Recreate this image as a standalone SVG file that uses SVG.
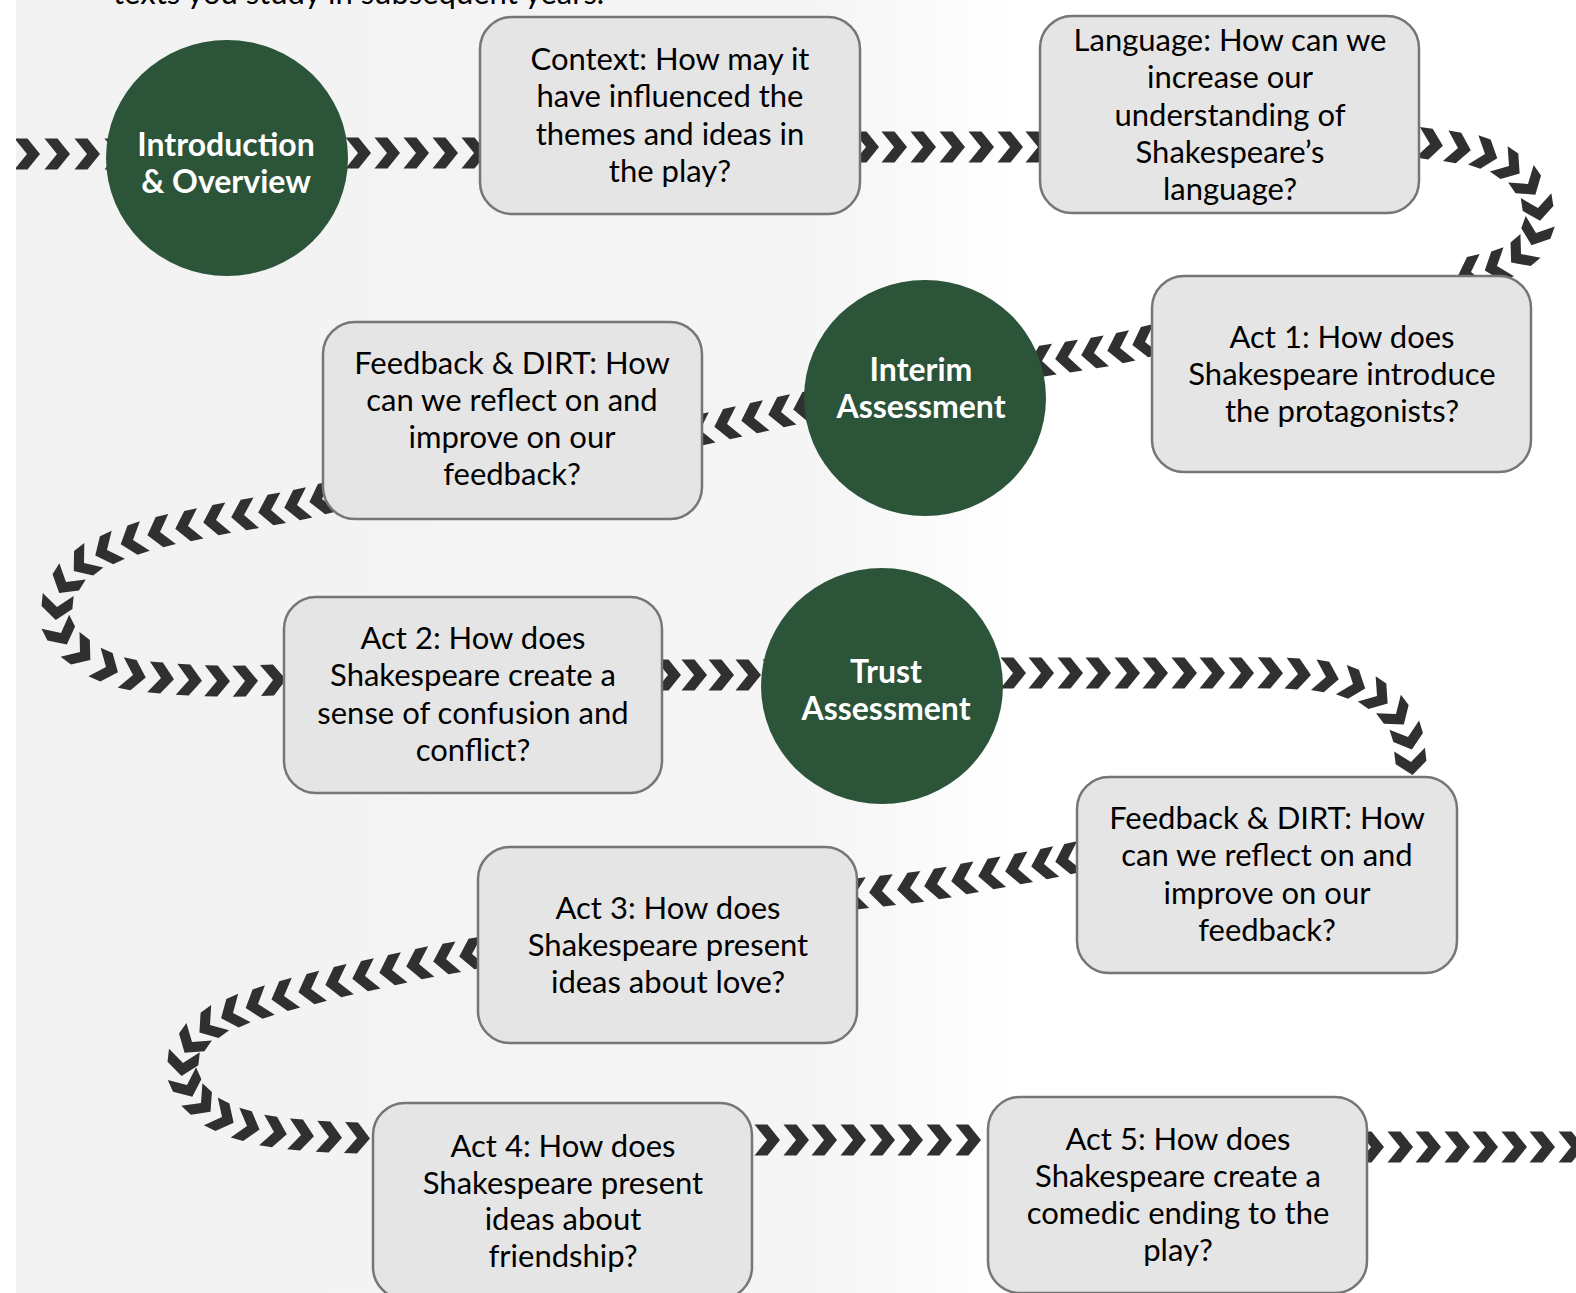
<svg xmlns="http://www.w3.org/2000/svg" width="1576" height="1293" viewBox="0 0 1576 1293">
<style>
.box{fill:#e5e5e5;stroke:#767676;stroke-width:2.5}
.hub{fill:#2b5439}
.bt{font-family:Lato,"Open Sans","Liberation Sans",sans-serif;font-size:31px;fill:#000;text-anchor:middle}
.ht{font-family:Lato,"Open Sans","Liberation Sans",sans-serif;font-size:32px;font-weight:bold;fill:#fff;text-anchor:middle}
.chain{fill:none;stroke:none;marker-start:url(#chev);marker-mid:url(#chev);marker-end:url(#chev)}
</style>
<defs>
<marker id="chev" viewBox="-13 -16 26 32" refX="0" refY="0" markerWidth="26" markerHeight="32" markerUnits="userSpaceOnUse" orient="auto" overflow="visible">
<polygon points="-12.5,-15.5 0.5,-15.5 13,0 0.5,15.5 -12.5,15.5 0,0" fill="#303030"/>
</marker>
<linearGradient id="wm" x1="0" y1="0" x2="1" y2="0">
<stop offset="0" stop-color="#f2f2f2"/>
<stop offset="0.8" stop-color="#f5f5f5"/>
<stop offset="1" stop-color="#ffffff"/>
</linearGradient>
</defs>
<rect x="0" y="0" width="1576" height="1293" fill="#ffffff"/>
<g id="watermark">
<rect x="16" y="0" width="1000" height="1293" fill="url(#wm)"/>
</g>
<text x="113" y="4" font-family="Lato,'Open Sans','Liberation Sans',sans-serif" font-size="31" fill="#000">texts you study in subsequent years.</text>
<g id="connectors">
<polyline class="chain" points="27,154 57,154 87,154 117,154"/>
<polyline class="chain" points="358,153 387,153 416,153 445,153 474,153"/>
<polyline class="chain" points="866,147 894,147 923,147 952,147 981,147 1010,147 1038,147"/>
<polyline class="chain" points="1430,144 1458,148 1485,154 1509,166 1528,184 1538,208 1536,233 1521,254 1497,266 1471,272"/>
<polyline class="chain" points="1145,342 1120,348 1094,353 1068,357 1042,361"/>
<polyline class="chain" points="806,407 781,412 754,418 727,424 700,430"/>
<polyline class="chain" points="322,499 297,505 271,510 244,515 216,520 188,526 160,532 133,540 107,550 84,563 66,582 57,607 61,633 80,652 106,667 133,675 161,678 189,680 217,681 245,681 273,680"/>
<polyline class="chain" points="668,675 694,675 721,675 748,675 775,675"/>
<polyline class="chain" points="1013,673 1041,673 1070,673 1098,673 1127,673 1155,673 1184,673 1212,673 1241,673 1270,673 1298,674 1326,677 1353,684 1377,696 1396,714 1408,737 1411,762"/>
<polyline class="chain" points="1068,859 1044,864 1018,869 991,874 964,879 937,884 910,888 882,891 855,894"/>
<polyline class="chain" points="472,954 446,959 419,964 392,970 365,976 338,982 311,989 284,996 258,1004 233,1013 210,1025 192,1042 183,1063 187,1085 201,1103 222,1117 247,1126 274,1132 301,1135 329,1137 357,1138"/>
<polyline class="chain" points="767,1140 796,1140 824,1140 853,1140 882,1140 910,1140 939,1140 968,1140"/>
<polyline class="chain" points="1371,1147 1400,1147 1428,1147 1457,1147 1485,1147 1514,1147 1542,1147 1571,1147"/>
</g>
<g id="n-intro">
<ellipse class="hub" cx="227" cy="158" rx="121" ry="118"/>
<text class="ht" x="226" y="156">Introduction</text>
<text class="ht" x="226" y="193">&amp; Overview</text>
</g>
<g id="n-context">
<rect class="box" x="480" y="17" width="380" height="197" rx="32"/>
<text class="bt" x="670" y="70">Context: How may it</text>
<text class="bt" x="670" y="107">have influenced the</text>
<text class="bt" x="670" y="145">themes and ideas in</text>
<text class="bt" x="670" y="182">the play?</text>
</g>
<g id="n-language">
<rect class="box" x="1040" y="16" width="379" height="197" rx="32"/>
<text class="bt" x="1230" y="51">Language: How can we</text>
<text class="bt" x="1230" y="88">increase our</text>
<text class="bt" x="1230" y="126">understanding of</text>
<text class="bt" x="1230" y="163">Shakespeare’s</text>
<text class="bt" x="1230" y="200">language?</text>
</g>
<g id="n-act1">
<rect class="box" x="1152" y="276" width="379" height="196" rx="32"/>
<text class="bt" x="1342" y="348">Act 1: How does</text>
<text class="bt" x="1342" y="385">Shakespeare introduce</text>
<text class="bt" x="1342" y="422">the protagonists?</text>
</g>
<g id="n-interim">
<ellipse class="hub" cx="925" cy="398" rx="121" ry="118"/>
<text class="ht" x="921" y="381">Interim</text>
<text class="ht" x="921" y="418">Assessment</text>
</g>
<g id="n-feedback1">
<rect class="box" x="323" y="322" width="379" height="197" rx="32"/>
<text class="bt" x="512" y="374">Feedback &amp; DIRT: How</text>
<text class="bt" x="512" y="411">can we reflect on and</text>
<text class="bt" x="512" y="448">improve on our</text>
<text class="bt" x="512" y="485">feedback?</text>
</g>
<g id="n-act2">
<rect class="box" x="284" y="597" width="378" height="196" rx="32"/>
<text class="bt" x="473" y="649">Act 2: How does</text>
<text class="bt" x="473" y="686">Shakespeare create a</text>
<text class="bt" x="473" y="724">sense of confusion and</text>
<text class="bt" x="473" y="761">conflict?</text>
</g>
<g id="n-trust">
<ellipse class="hub" cx="882" cy="686" rx="121" ry="118"/>
<text class="ht" x="886" y="683">Trust</text>
<text class="ht" x="886" y="720">Assessment</text>
</g>
<g id="n-feedback2">
<rect class="box" x="1077" y="777" width="380" height="196" rx="32"/>
<text class="bt" x="1267" y="829">Feedback &amp; DIRT: How</text>
<text class="bt" x="1267" y="866">can we reflect on and</text>
<text class="bt" x="1267" y="904">improve on our</text>
<text class="bt" x="1267" y="941">feedback?</text>
</g>
<g id="n-act3">
<rect class="box" x="478" y="847" width="379" height="196" rx="32"/>
<text class="bt" x="668" y="919">Act 3: How does</text>
<text class="bt" x="668" y="956">Shakespeare present</text>
<text class="bt" x="668" y="993">ideas about love?</text>
</g>
<g id="n-act4">
<rect class="box" x="373" y="1103" width="379" height="196" rx="32"/>
<text class="bt" x="563" y="1157">Act 4: How does</text>
<text class="bt" x="563" y="1194">Shakespeare present</text>
<text class="bt" x="563" y="1230">ideas about</text>
<text class="bt" x="563" y="1267">friendship?</text>
</g>
<g id="n-act5">
<rect class="box" x="988" y="1097" width="379" height="196" rx="32"/>
<text class="bt" x="1178" y="1150">Act 5: How does</text>
<text class="bt" x="1178" y="1187">Shakespeare create a</text>
<text class="bt" x="1178" y="1224">comedic ending to the</text>
<text class="bt" x="1178" y="1261">play?</text>
</g>
<rect x="0" y="0" width="16" height="1293" fill="#ffffff"/>
</svg>
